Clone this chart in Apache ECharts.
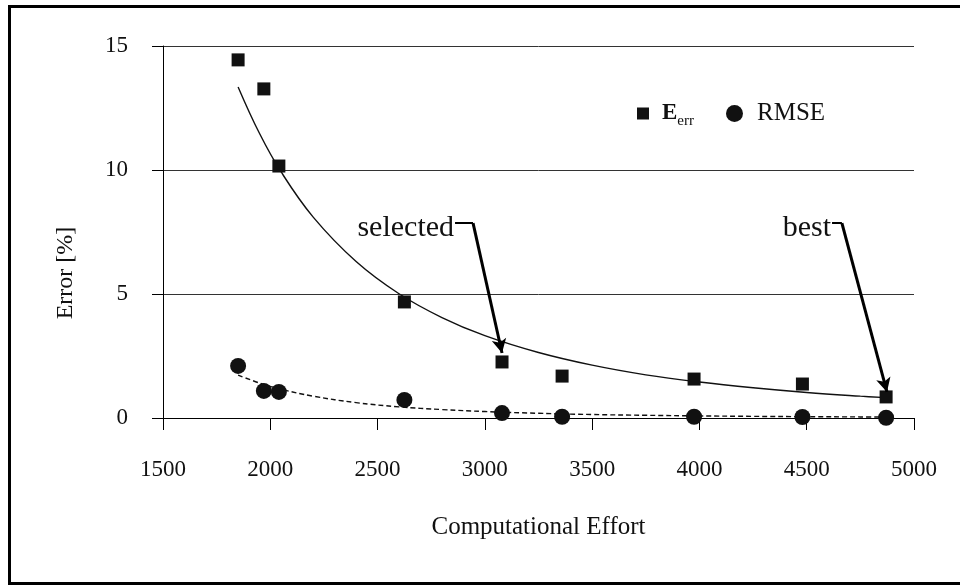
<!DOCTYPE html>
<html>
<head>
<meta charset="utf-8">
<script src="https://cdn.jsdelivr.net/npm/echarts@6/dist/echarts.min.js"></script>
<style>
  html, body { margin: 0; padding: 0; background: #fff; }
  #chart { width: 960px; height: 585px; }
</style>
</head>
<body>
<div id="chart"></div>
<script>
// Computational effort of each configuration and the two error measures
const effort = [1850, 1970, 2040, 2625, 3080, 3360, 3975, 4480, 4870];
const errValues = [14.44, 13.27, 10.16, 4.68, 2.26, 1.69, 1.57, 1.37, 0.85];
const rmseValues = [2.10, 1.09, 1.05, 0.73, 0.20, 0.05, 0.05, 0.04, 0.01];

// Trend curves (power trendlines) sampled along the effort range
const trendX = [1850, 1950, 2050, 2200, 2400, 2600, 2800, 3000, 3250, 3500, 3750, 4000, 4250, 4500, 4750, 4870];
const errTrend = [13.35, 11.47, 9.93, 8.10, 6.31, 5.01, 4.05, 3.32, 2.64, 2.13, 1.74, 1.45, 1.22, 1.03, 0.88, 0.82];
const rmseTrend = [1.73, 1.41, 1.16, 0.88, 0.62, 0.45, 0.34, 0.26, 0.19, 0.14, 0.11, 0.084, 0.066, 0.053, 0.043, 0.039];

// Axis ticks
const xTicks = [1500, 2000, 2500, 3000, 3500, 4000, 4500, 5000];
const yTicks = [0, 5, 10, 15];

// Callouts: label, label anchor, bend point, arrow tip (data coordinates)
const calloutNames = ['selected', 'best'];
const calloutAnchor = [[2861, 7.86], [4618, 7.86]];
const calloutBend = [[2945, 7.86], [4664, 7.86]];
const calloutTip = [[3080, 2.62], [4874, 1.05]];

const FONT = "'Liberation Serif', 'Times New Roman', serif";
const INK = '#111';

const pair = (xs, ys) => xs.map((x, i) => [x, ys[i]]);

const chart = echarts.init(document.getElementById('chart'), null, { renderer: 'canvas' });

const calloutLines = [];
calloutNames.forEach((n, i) => {
  calloutLines.push([
    { coord: calloutAnchor[i], symbol: 'none', lineStyle: { width: 2 } },
    { coord: calloutBend[i], symbol: 'none' }
  ]);
  calloutLines.push([
    { coord: calloutBend[i], symbol: 'none', lineStyle: { width: 3 } },
    { coord: calloutTip[i], symbol: 'arrow', symbolSize: [11, 14] }
  ]);
});

const option = {
  animation: false,
  backgroundColor: '#fff',
  textStyle: { fontFamily: FONT, color: INK },
  grid: { left: 163, right: 46, top: 46, bottom: 167, containLabel: false },
  xAxis: {
    type: 'value',
    min: xTicks[0],
    max: xTicks[xTicks.length - 1],
    interval: xTicks[1] - xTicks[0],
    name: 'Computational Effort',
    nameLocation: 'middle',
    nameGap: 97,
    nameTextStyle: { fontFamily: FONT, fontSize: 25, color: INK },
    axisLine: { show: true, lineStyle: { color: '#000', width: 1 } },
    axisTick: { show: true, inside: false, length: 12, lineStyle: { color: '#000', width: 1 } },
    axisLabel: { fontFamily: FONT, fontSize: 23, color: INK, margin: 40, formatter: v => String(v) },
    splitLine: { show: false }
  },
  yAxis: {
    type: 'value',
    min: yTicks[0],
    max: yTicks[yTicks.length - 1],
    interval: yTicks[1] - yTicks[0],
    axisLine: { show: true, lineStyle: { color: '#000', width: 1 } },
    axisTick: { show: true, inside: false, length: 11, lineStyle: { color: '#000', width: 1 } },
    axisLabel: { fontFamily: FONT, fontSize: 23, color: INK, margin: 35, formatter: v => String(v) },
    splitLine: { show: true, lineStyle: { color: '#333', width: 1 } }
  },
  legend: [
    {
      data: [{ name: 'Eerr', icon: 'rect', itemStyle: { color: INK, opacity: 1 } }],
      left: 632, top: 97,
      itemWidth: 12, itemHeight: 12,
      formatter: () => '{e|E}{s|err}',
      textStyle: {
        padding: [0, 0, 0, 8],
        rich: {
          e: { fontFamily: FONT, fontSize: 23, fontWeight: 'bold', color: INK },
          s: { fontFamily: FONT, fontSize: 15, color: INK, padding: [16, 0, 0, 0] }
        }
      },
      selectedMode: false
    },
    {
      data: [{ name: 'RMSE', icon: 'circle', itemStyle: { color: INK, opacity: 1 } }],
      left: 721, top: 96,
      itemWidth: 17, itemHeight: 17,
      textStyle: { fontFamily: FONT, fontSize: 25, color: INK, padding: [0, 0, 0, 9] },
      selectedMode: false
    }
  ],
  series: [
    {
      name: 'Eerr trend',
      type: 'line',
      data: pair(trendX, errTrend),
      smooth: 0.4,
      showSymbol: false,
      lineStyle: { color: INK, width: 1.4 },
      silent: true,
      z: 2
    },
    {
      name: 'RMSE trend',
      type: 'line',
      data: pair(trendX, rmseTrend),
      smooth: 0.4,
      showSymbol: false,
      lineStyle: { color: INK, width: 1.4, type: [5, 3] },
      silent: true,
      z: 2
    },
    {
      name: 'Eerr',
      type: 'scatter',
      data: pair(effort, errValues),
      symbol: 'rect',
      symbolSize: 13,
      itemStyle: { color: INK, opacity: 1 },
      z: 3
    },
    {
      name: 'RMSE',
      type: 'scatter',
      data: pair(effort, rmseValues),
      symbol: 'circle',
      symbolSize: 16,
      itemStyle: { color: INK, opacity: 1 },
      z: 3
    },
    {
      name: 'callouts',
      type: 'line',
      data: [],
      silent: true,
      z: 4,
      markLine: {
        silent: true,
        symbol: ['none', 'none'],
        label: { show: false },
        lineStyle: { color: '#000', type: 'solid', width: 3, opacity: 1 },
        emphasis: { disabled: true },
        data: calloutLines
      },
      markPoint: {
        silent: true,
        symbol: 'circle',
        symbolSize: 0,
        label: {
          show: true,
          position: 'left',
          distance: 1,
          offset: [0, 5],
          fontFamily: FONT,
          fontSize: 30,
          color: INK
        },
        data: calloutNames.map((n, i) => ({
          coord: calloutAnchor[i],
          label: { formatter: n }
        }))
      }
    }
  ],
  graphic: [
    {
      type: 'rect',
      shape: { x: 9.5, y: 6.5, width: 1000, height: 577 },
      style: { fill: 'none', stroke: '#000', lineWidth: 3 },
      silent: true,
      z: 10
    },
    {
      type: 'text',
      x: 66, y: 273,
      rotation: Math.PI / 2,
      style: {
        text: 'Error [%]',
        fontFamily: FONT,
        fontSize: 24,
        fill: INK,
        align: 'center',
        verticalAlign: 'middle'
      },
      silent: true
    }
  ]
};

chart.setOption(option);
</script>
</body>
</html>
